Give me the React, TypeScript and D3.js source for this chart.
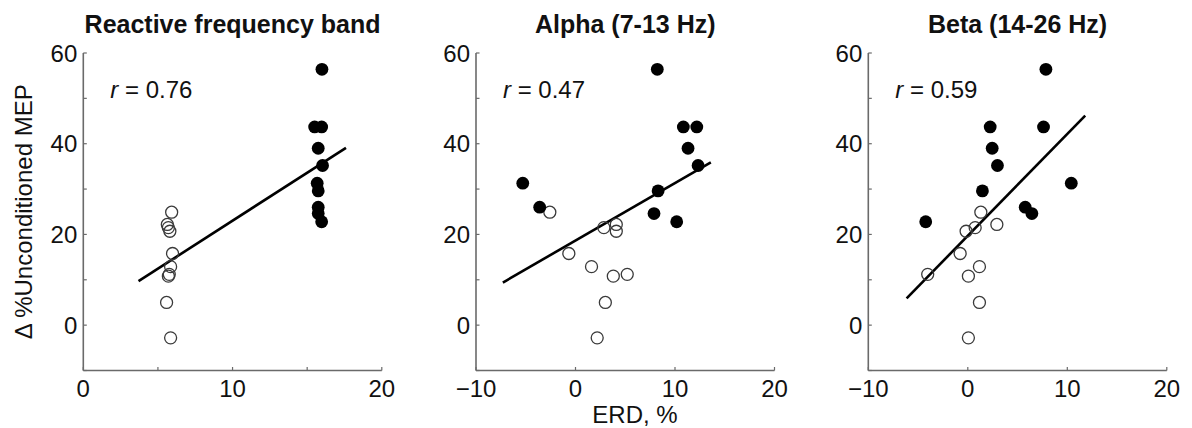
import React, { useRef, useEffect } from 'react';
import * as d3 from 'd3';

// subjects: y values shared by every panel (Δ %Unconditioned MEP)
const openY = [24.9, 22.2, 21.5, 20.7, 15.8, 12.9, 11.2, 10.8, 5.0, -2.8];
const filledY = [56.4, 43.7, 43.7, 39.0, 35.2, 31.3, 29.6, 26.0, 24.6, 22.8];

// ERD, % for each panel
const reactiveOpenX = [5.92, 5.63, 5.7, 5.8, 5.98, 5.85, 5.76, 5.7, 5.58, 5.85];
const reactiveFilledX = [15.99, 15.5, 15.97, 15.74, 16.03, 15.67, 15.74, 15.74, 15.74, 15.97];
const alphaOpenX = [-2.58, 4.1, 2.85, 4.1, -0.67, 1.61, 5.2, 3.8, 3.0, 2.18];
const alphaFilledX = [8.22, 10.84, 12.19, 11.31, 12.32, -5.3, 8.3, -3.6, 7.89, 10.17];
const betaOpenX = [1.31, 2.92, 0.74, -0.17, -0.77, 1.17, -4.03, 0.06, 1.17, 0.06];
const betaFilledX = [7.85, 2.25, 7.61, 2.45, 2.98, 10.4, 1.47, 5.77, 6.44, -4.23];

// regression line end points [x0, x1], [y0, y1]
const fitX = [[3.7, 17.6], [-7.3, 13.6], [-6.15, 11.8]];
const fitY = [[9.7, 39.1], [9.4, 35.9], [5.9, 46.2]];

const titles = ['Reactive frequency band', 'Alpha (7-13 Hz)', 'Beta (14-26 Hz)'];
const rValues = ['0.76', '0.47', '0.59'];
const xDomains = [[0, 20], [-10, 20], [-10, 20]];
const xTicks = [[0, 5, 10, 15, 20], [-10, 0, 10, 20], [-10, 0, 10, 20]];
const xLabels = [[0, 10, 20], [-10, 0, 10, 20], [-10, 0, 10, 20]];
const yTicks = [-10, 0, 10, 20, 30, 40, 50, 60];
const yLabels = [0, 20, 40, 60];

const panelLeft = [83.3, 476, 868.3];
const panelWidth = 298.5;
const top = 53;
const bottom = 370.5;
const axisColor = '#6a6a6a';
const font = '"Liberation Sans", Arial, sans-serif';

export default function App() {
	const svgRef = useRef<SVGSVGElement>(null);

	useEffect(() => {
		const svg = d3.select(svgRef.current);
		svg.selectAll('*').remove();

		const y = d3.scaleLinear().domain([-10, 60]).range([bottom, top]);
		const fmt = d3.format('d');

		const panels = [
			{ open: reactiveOpenX, filled: reactiveFilledX },
			{ open: alphaOpenX, filled: alphaFilledX },
			{ open: betaOpenX, filled: betaFilledX },
		];

		panels.forEach((p, i) => {
			const left = panelLeft[i];
			const x = d3.scaleLinear().domain(xDomains[i]).range([left, left + panelWidth]);
			const g = svg.append('g');

			// axes (left + bottom only, ticks pointing in)
			g.append('line')
				.attr('x1', left).attr('x2', left)
				.attr('y1', y(60)).attr('y2', y(-10))
				.attr('stroke', axisColor).attr('stroke-width', 1.6);
			g.append('line')
				.attr('x1', left).attr('x2', x(20))
				.attr('y1', bottom).attr('y2', bottom)
				.attr('stroke', axisColor).attr('stroke-width', 1.6);

			g.selectAll('.ytick')
				.data(yTicks)
				.join('line')
				.attr('x1', left).attr('x2', left + 3.5)
				.attr('y1', (d) => y(d)).attr('y2', (d) => y(d))
				.attr('stroke', axisColor).attr('stroke-width', 1.2);
			g.selectAll('.xtick')
				.data(xTicks[i])
				.join('line')
				.attr('x1', (d) => x(d)).attr('x2', (d) => x(d))
				.attr('y1', bottom).attr('y2', bottom - 3.5)
				.attr('stroke', axisColor).attr('stroke-width', 1.2);

			g.selectAll('.ylab')
				.data(yLabels)
				.join('text')
				.attr('x', left - 6)
				.attr('y', (d) => y(d) + 8.5)
				.attr('text-anchor', 'end')
				.attr('font-family', font)
				.attr('font-size', 24)
				.attr('fill', '#111')
				.text((d) => fmt(d));
			g.selectAll('.xlab')
				.data(xLabels[i])
				.join('text')
				.attr('x', (d) => x(d))
				.attr('y', 397)
				.attr('text-anchor', 'middle')
				.attr('font-family', font)
				.attr('font-size', 24)
				.attr('fill', '#111')
				.text((d) => fmt(d));

			// title
			g.append('text')
				.attr('x', left + panelWidth / 2)
				.attr('y', 33)
				.attr('text-anchor', 'middle')
				.attr('font-family', font)
				.attr('font-weight', 'bold')
				.attr('font-size', 25)
				.attr('fill', '#111')
				.text(titles[i]);

			// r annotation
			const rt = g.append('text')
				.attr('x', left + 27)
				.attr('y', 98)
				.attr('font-family', font)
				.attr('font-size', 24)
				.attr('fill', '#111');
			rt.append('tspan').attr('font-style', 'italic').text('r');
			rt.append('tspan').text(` = ${rValues[i]}`);

			// regression line
			const fit = d3.line<number>()
				.x((d) => x(d))
				.y((_, k) => y(fitY[i][k]));
			g.append('path')
				.datum(fitX[i])
				.attr('d', fit)
				.attr('fill', 'none')
				.attr('stroke', '#000')
				.attr('stroke-width', 2.6);

			// points
			g.selectAll('.open')
				.data(p.open)
				.join('circle')
				.attr('cx', (d) => x(d))
				.attr('cy', (_, k) => y(openY[k]))
				.attr('r', 6)
				.attr('fill', 'none')
				.attr('stroke', '#3a3a3a')
				.attr('stroke-width', 1.3);
			g.selectAll('.filled')
				.data(p.filled)
				.join('circle')
				.attr('cx', (d) => x(d))
				.attr('cy', (_, k) => y(filledY[k]))
				.attr('r', 6.4)
				.attr('fill', '#000');
		});

		// shared axis labels
		svg.append('text')
			.attr('transform', `translate(32, ${(top + bottom) / 2}) rotate(-90)`)
			.attr('text-anchor', 'middle')
			.attr('font-family', font)
			.attr('font-size', 24)
			.attr('fill', '#111')
			.text('Δ %Unconditioned MEP');
		svg.append('text')
			.attr('x', 635)
			.attr('y', 423)
			.attr('text-anchor', 'middle')
			.attr('font-family', font)
			.attr('font-size', 24)
			.attr('fill', '#111')
			.text('ERD, %');
	}, []);

	return (
		<svg
			ref={svgRef}
			width={1192}
			height={428}
			style={{ position: 'absolute', left: 0, top: 0, background: '#fff' }}
		/>
	);
}
